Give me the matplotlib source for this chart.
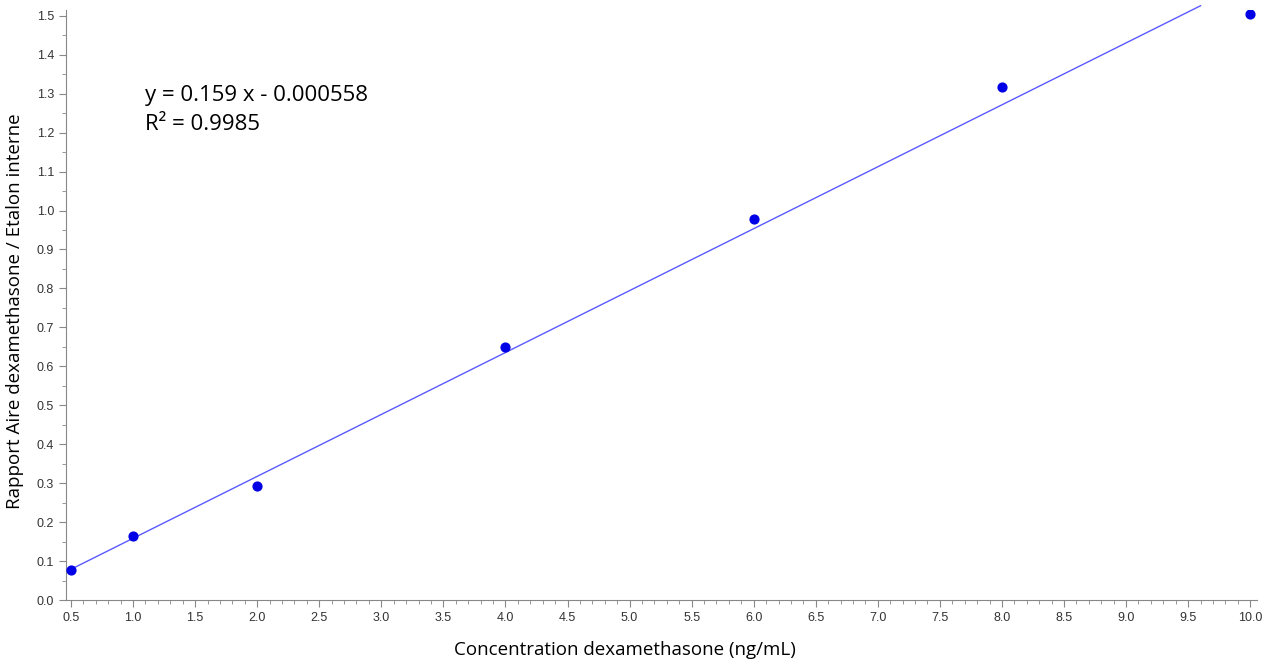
import numpy as np
import matplotlib.pyplot as plt
from matplotlib.ticker import MultipleLocator

# --- Data ---
conc = [0.5, 1.0, 2.0, 4.0, 6.0, 8.0, 10.0]
ratio = [0.077, 0.164, 0.293, 0.650, 0.979, 1.318, 1.504]
slope = 0.159
intercept = -0.000558
r2 = 0.9985
fit_range = [0.5, 9.6]

fig = plt.figure(figsize=(12.75, 6.6), dpi=100)
ax = fig.add_axes([0.0518, 0.0909, 0.9342, 0.894])

xf = np.array(fit_range)
ax.plot(xf, slope * xf + intercept, color='#5a5aff', lw=1.0, zorder=2,
        clip_on=False)
ax.scatter(conc, ratio, s=40, color='#0000e6', zorder=3)

ax.set_xlim(0.46, 10.056)
ax.set_ylim(0, 1.515)
ax.xaxis.set_major_locator(MultipleLocator(0.5))
ax.xaxis.set_minor_locator(MultipleLocator(0.1))
ax.yaxis.set_major_locator(MultipleLocator(0.1))
ax.yaxis.set_minor_locator(MultipleLocator(0.05))
ax.xaxis.set_major_formatter(plt.FormatStrFormatter('%.1f'))
ax.yaxis.set_major_formatter(plt.FormatStrFormatter('%.1f'))

for s in ['top', 'right']:
    ax.spines[s].set_visible(False)
for s in ['left', 'bottom']:
    ax.spines[s].set_color('#888888')
ax.tick_params(which='major', length=5, color='#888888', labelsize=9,
               labelcolor='#333333', labelfontfamily='Liberation Sans')
ax.tick_params(which='minor', length=3, color='#888888')

# axis titles placed in figure coords
fig.text(0.49, 0.015, 'Concentration dexamethasone (ng/mL)', fontsize=13.5,
         family='Open Sans', ha='center', va='center')
fig.text(0.0118, 0.529, 'Rapport Aire dexamethasone / Etalon interne',
         fontsize=13.5, family='Open Sans', rotation=90, ha='center', va='center')

ax.text(0.066, 0.872, f'y = {slope} x - {-intercept:.6f}\nR² = {r2}',
        transform=ax.transAxes, fontsize=16, family='Open Sans',
        va='top', linespacing=1.5)

fig.savefig('out.png', dpi=100)
